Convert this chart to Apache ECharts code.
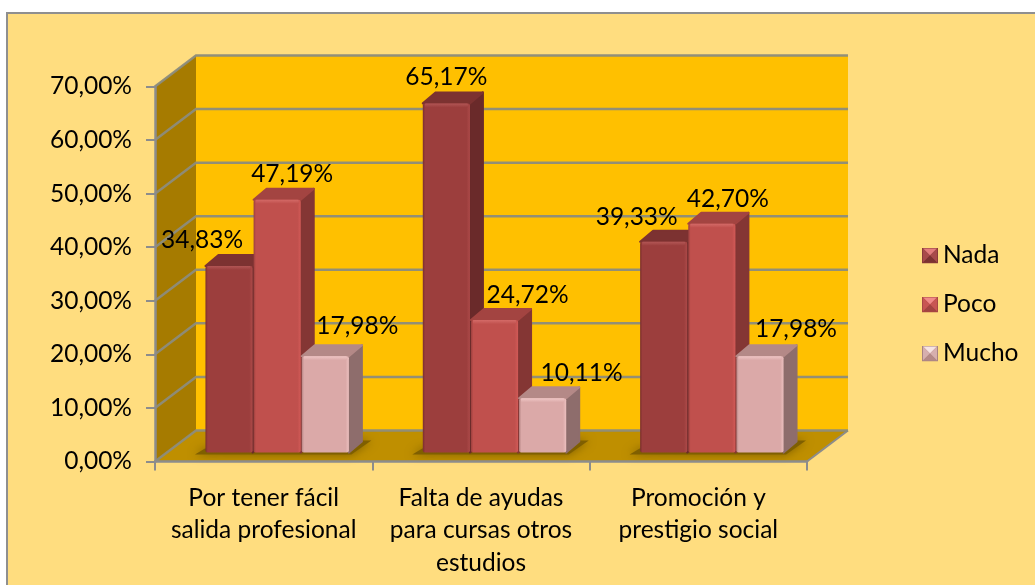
<!DOCTYPE html>
<html><head><meta charset="utf-8">
<style>html,body{margin:0;padding:0;background:#fff}#c{width:1035px;height:585px}</style>
<script src="https://cdn.jsdelivr.net/npm/echarts@6/dist/echarts.min.js"></script>
</head><body><div id="c"></div>
<script>
const categories = ['Por tener fácil\nsalida profesional', 'Falta de ayudas\npara cursas otros\nestudios', 'Promoción y\nprestigio social'];
const seriesNames = ['Nada', 'Poco', 'Mucho'];
const nada = [34.83, 65.17, 39.33];
const poco = [47.19, 24.72, 42.70];
const mucho = [17.98, 10.11, 17.98];
const yTicks = [0, 10, 20, 30, 40, 50, 60, 70];
const FONT = 'Lato';
const FS = 24.5;
const fmt = v => v.toFixed(2).replace('.', ',') + '%';

// 3D look (pixels)
const WALL = [41, -31], BASE = [13.5, -9], DEPTH = [13, -11], BAR_RATIO = 0.2215;
const skins = [
  {front:'#9C3E3D', edgeL:'#7a2e2d', edgeR:'#ad4a49', side:'#6A2A2A', top:'#7C3231', hi:'#b25655'},
  {front:'#C0504D', edgeL:'#9a3f3d', edgeR:'#d25a57', side:'#843634', top:'#A34441', hi:'#d46a67'},
  {front:'#DBA9A8', edgeL:'#b58584', edgeR:'#ecc0bf', side:'#8E6D6C', top:'#B48987', hi:'#efc6c5'}
];
// manual label shifts relative to the bar's front-top centre: [series][category]
const labelShift = [
  [[-27,-26],[0,-26],[-27,-25]],
  [[15,-26],[33,-25],[16,-25]],
  [[32,-30],[39,-25],[36,-27]]
];

function pyramid(c){
  const svg = `<svg xmlns="http://www.w3.org/2000/svg" width="16" height="16" viewBox="0 0 16 16">`+
  `<rect width="16" height="16" fill="${c.b}"/>`+
  `<polygon points="1,1 15,1 8,8" fill="${c.t}"/><polygon points="1,1 8,8 1,15" fill="${c.s}"/>`+
  `<polygon points="15,1 8,8 15,15" fill="${c.s}"/><polygon points="1,15 15,15 8,8" fill="${c.d}"/></svg>`;
  return 'image://data:image/svg+xml,' + encodeURIComponent(svg);
}
const legendSkins = [
  {b:'#8a3a3a', t:'#E27C7C', s:'#A84A4A', d:'#7C3231'},
  {b:'#a84745', t:'#F08A88', s:'#C85653', d:'#A34441'},
  {b:'#a88382', t:'#F6E4E3', s:'#D6AFAE', d:'#B48987'}
];

const wallSeries = {
  type:'custom', z:1, silent:true, clip:false, data:yTicks.map(v=>[0,v]),
  encode:{x:0,y:1},
  renderItem(params, api){
    const cs = params.coordSys, v = api.value(1), y = api.coord([0,v])[1];
    const L = cs.x, R = cs.x + cs.width, B = cs.y + cs.height, T = cs.y;
    const [dx,dy] = WALL, kids = [];
    if (params.dataIndex === 0) {
      kids.push({type:'polygon',shape:{points:[[L+dx,T+dy],[R+dx,T+dy],[R+dx,B+dy],[L+dx,B+dy]]},style:{fill:'#FFC000'}});
      kids.push({type:'polygon',shape:{points:[[L,T],[L+dx,T+dy],[L+dx,B+dy],[L,B]]},style:{fill:'#A67B00'}});
      kids.push({type:'polygon',shape:{points:[[L,B],[L+dx,B+dy],[R+dx,B+dy],[R,B]]},style:{fill:'#BF8F00'}});
      kids.push({type:'line',shape:{x1:R,y1:B,x2:R+dx,y2:B+dy},style:{stroke:'#8C8C8C',lineWidth:2}});
    }
    kids.push({type:'polyline',shape:{points:[[L,y],[L+dx,y+dy],[R+dx,y+dy]]},style:{stroke:'#8C8C7C',lineWidth:2.5,fill:null,opacity:.95}});
    return {type:'group',children:kids};
  }
};
const shadowSeries = {
  type:'custom', z:2, silent:true, clip:false, data:categories.map((c,i)=>[i,0]),
  encode:{x:0,y:1},
  renderItem(params, api){
    const i = api.value(0), p = api.coord([i,0]), band = api.size([1,0])[0], w = band*BAR_RATIO;
    const cx = p[0]+BASE[0], y = p[1]+BASE[1];
    const l = cx-1.5*w, r = cx+1.5*w;
    return {type:'polygon',shape:{points:[[l-10,y+2],[r+2,y+2],[r+22,y-12],[r+10,y-12],[l,y-4]]},
      style:{fill:'#7F5F00',shadowBlur:10,shadowColor:'#7F5F00'}};
  }
};
function barSeries(name, values, idx){
  const skin = skins[idx];
  return {
    name, type:'custom', z:3, clip:false, data:values.map((v,i)=>[i,v]),
    encode:{x:0,y:1}, itemStyle:{color:skin.front},
    renderItem(params, api){
      const c = api.value(0), v = api.value(1);
      const p0 = api.coord([c,0]), p1 = api.coord([c,v]);
      const w = api.size([1,0])[0]*BAR_RATIO;
      const x0 = p0[0]+BASE[0]+(idx-1.5)*w+0.5, x1 = x0+w-1;
      const yb = p0[1]+BASE[1], yt = p1[1]+BASE[1];
      const [dx,dy] = DEPTH;
      const grad = new echarts.graphic.LinearGradient(0,0,1,0,[
        {offset:0,color:skin.edgeL},{offset:.05,color:skin.front},{offset:.93,color:skin.front},{offset:1,color:skin.edgeR}]);
      const hiGrad = new echarts.graphic.LinearGradient(0,0,0,1,[
        {offset:0,color:skin.hi},{offset:1,color:skin.front}]);
      const shift = labelShift[idx][c];
      return {type:'group',children:[
        {type:'polygon',z2:idx*3,shape:{points:[[x1,yt],[x1+dx,yt+dy],[x1+dx,yb+dy],[x1,yb]]},
          style:{fill:skin.side,stroke:skin.side,lineWidth:2,lineJoin:'round'}},
        {type:'polygon',z2:idx*3,shape:{points:[[x0,yt],[x0+dx,yt+dy],[x1+dx,yt+dy],[x1,yt]]},
          style:{fill:skin.top,stroke:skin.top,lineWidth:2,lineJoin:'round'}},
        {type:'rect',z2:idx*3+1,shape:{x:x0,y:yt,width:w-1,height:yb-yt,r:2},style:{fill:grad}},
        {type:'rect',z2:idx*3+2,shape:{x:x0+2,y:yt,width:w-5,height:4,r:1},style:{fill:hiGrad}},
        {type:'text',z2:100,style:{x:(x0+x1)/2+shift[0],y:yt+shift[1],text:fmt(v),fill:'#000',
          font:`${FS}px ${FONT}`,align:'center',verticalAlign:'middle'}}
      ]};
    }
  };
}
const chart = echarts.init(document.getElementById('c'), null, {renderer:'canvas'});
chart.setOption({
  animation:false, backgroundColor:'#fff',
  graphic:[{type:'rect',z:-1,shape:{x:7,y:13,width:1040,height:590},
    style:{fill:'#FFDD7F',stroke:'#8F8F8F',lineWidth:2}}],
  grid:{left:155,top:86.5,width:652,height:375},
  legend:{orient:'vertical',left:917,top:238,itemWidth:16,itemHeight:16,itemGap:24,selectedMode:false,
    textStyle:{fontFamily:FONT,fontSize:FS,color:'#000',lineHeight:24},
    data:seriesNames.map((n,i)=>({name:n,icon:pyramid(legendSkins[i])}))},
  xAxis:{type:'category',data:categories,z:5,
    axisLine:{lineStyle:{color:'#8C8C8C',width:2.5}},
    axisTick:{show:true,length:9,lineStyle:{color:'#8C8C8C',width:2}},
    axisLabel:{fontFamily:FONT,fontSize:FS,color:'#000',lineHeight:32.5,margin:20,interval:0}},
  yAxis:{type:'value',min:0,max:70,interval:10,z:5,
    axisLine:{show:true,lineStyle:{color:'#8C8C8C',width:2.5}},
    axisTick:{show:true,length:9,lineStyle:{color:'#8C8C8C',width:2}},
    splitLine:{show:false},
    axisLabel:{fontFamily:FONT,fontSize:FS,color:'#000',margin:23,padding:[4,0,0,0],formatter:v=>fmt(v)}},
  series:[wallSeries,shadowSeries,barSeries(seriesNames[0],nada,0),barSeries(seriesNames[1],poco,1),barSeries(seriesNames[2],mucho,2)]
});
</script></body></html>
